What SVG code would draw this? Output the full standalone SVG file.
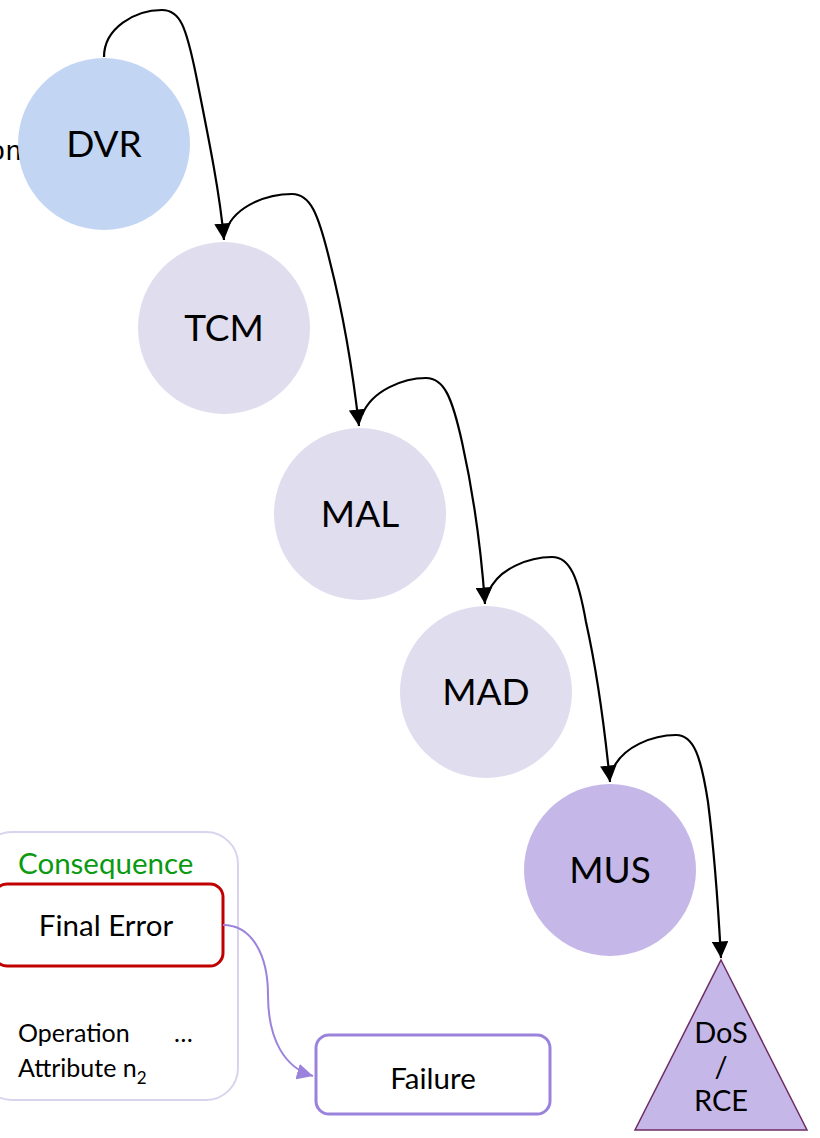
<svg xmlns="http://www.w3.org/2000/svg" width="820" height="1138" viewBox="0 0 820 1138">
  <style>
    .lbl { font-family: Lato, "Open Sans", sans-serif; fill: #000; text-anchor: middle; }
    .big { font-size: 37px; }
    .tri { font-size: 29px; }
    .box { font-size: 29.5px; }
    .edge { fill: none; stroke: #000; stroke-width: 2.2; marker-end: url(#arrow); }
    .flow { fill: none; stroke: #9b82dc; stroke-width: 2; marker-end: url(#arrowP); }
    .small { font-family: Lato, "Open Sans", sans-serif; font-size: 25px; fill: #000; }
  </style>
  <defs>
    <marker id="arrow" viewBox="0 0 10 10" refX="10" refY="5" markerWidth="7.5" markerHeight="7.5" orient="auto" markerUnits="strokeWidth">
      <path d="M0,0 L10,5 L0,10 z" fill="#000"/>
    </marker>
    <marker id="arrowP" viewBox="0 0 10 10" refX="10" refY="5" markerWidth="8" markerHeight="8" orient="auto" markerUnits="strokeWidth">
      <path d="M0,0 L10,5 L0,10 z" fill="#9b82dc"/>
    </marker>
  </defs>
  <rect width="820" height="1138" fill="#fff"/>

  <!-- stray label partly hidden under the first circle -->
  <text x="22" y="160" font-family="'Liberation Mono', monospace" font-size="28" text-anchor="end" fill="#000">on</text>

  <!-- consequence panel -->
  <g id="consequence">
    <rect x="-20" y="832" width="258" height="268" rx="32" fill="none" stroke="#d9d3ee" stroke-width="2"/>
    <text x="18" y="874" font-family="Lato, 'Open Sans', sans-serif" font-size="29.5" fill="#0a9a12">Consequence</text>
    <text class="small" x="18" y="1042">Operation</text>
    <text class="small" x="174" y="1042">…</text>
    <text class="small" x="18" y="1077">Attribute n<tspan font-size="17" dy="7">2</tspan></text>
  </g>
  <g id="final-error">
    <rect x="-6" y="884" width="229" height="82" rx="13" fill="#fff" stroke="#c00000" stroke-width="3"/>
    <text class="lbl box" x="106" y="936">Final Error</text>
  </g>
  <g id="failure">
    <rect x="316" y="1035" width="234" height="79" rx="13" fill="#fff" stroke="#9b82dc" stroke-width="3"/>
    <text class="lbl box" x="433" y="1089">Failure</text>
  </g>

  <!-- nodes -->
  <g id="dvr">
    <circle cx="104" cy="144" r="86" fill="#c2d6f4"/>
    <text class="lbl big" x="104" y="157">DVR</text>
  </g>
  <g id="tcm">
    <circle cx="224" cy="328" r="86" fill="#e0ddef"/>
    <text class="lbl big" x="224" y="341">TCM</text>
  </g>
  <g id="mal">
    <circle cx="360" cy="514" r="86" fill="#e0ddef"/>
    <text class="lbl big" x="360" y="527">MAL</text>
  </g>
  <g id="mad">
    <circle cx="486" cy="692" r="86" fill="#e0ddef"/>
    <text class="lbl big" x="486" y="705">MAD</text>
  </g>
  <g id="mus">
    <circle cx="610" cy="870" r="86" fill="#c5b8e8"/>
    <text class="lbl big" x="610" y="883">MUS</text>
  </g>
  <g id="dos-rce">
    <polygon points="721,960 807,1130 635,1130" fill="#c5b8e8" stroke="#6e2d63" stroke-width="1.5"/>
    <text class="lbl tri" x="721" y="1043">DoS</text>
    <text class="lbl tri" x="721" y="1077">/</text>
    <text class="lbl tri" x="721" y="1111">RCE</text>
  </g>

  <!-- connectors -->
  <g id="connectors">
    <path class="edge" d="M104,57 C104,28 135,10 162,10 C180,10 186,26 196,75 C210,145 220,195 224,240"/>
    <path class="edge" d="M226,230 C236,205 268,194 292,194 C310,194 318,212 330,262 C346,325 354,382 359,426"/>
    <path class="edge" d="M362,415 C372,390 404,378 426,378 C444,378 452,397 462,442 C476,505 482,562 485,604"/>
    <path class="edge" d="M488,593 C498,568 530,557 552,557 C570,557 578,577 586,622 C600,685 606,742 610,782"/>
    <path class="edge" d="M612,771 C622,746 654,735 676,735 C694,735 701,757 708,802 C716,865 719,922 721,958"/>
    <path class="flow" d="M223,925 C252,925 268,955 268,995 C268,1040 285,1068 313,1076"/>
  </g>
</svg>
